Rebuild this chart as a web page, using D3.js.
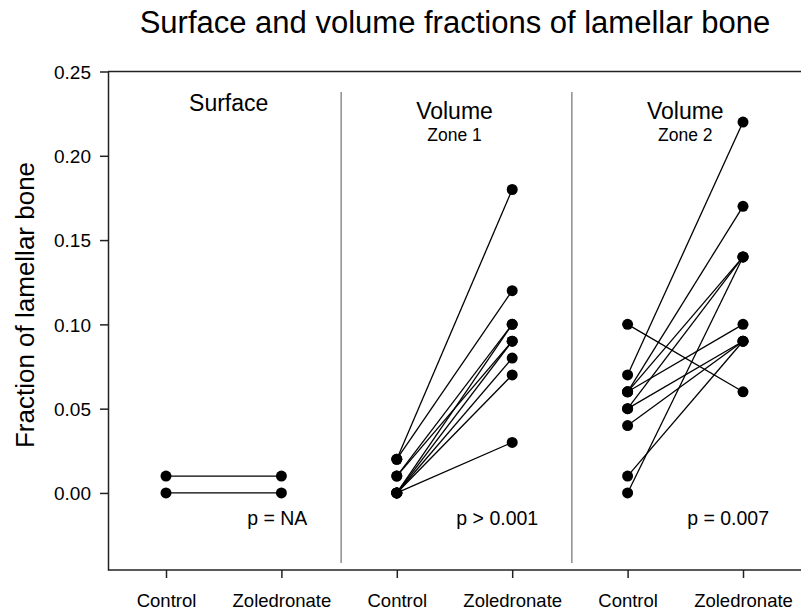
<!DOCTYPE html>
<html>
<head>
<meta charset="utf-8">
<script src="https://d3js.org/d3.v7.min.js"></script>
<style>
  body { margin: 0; background: white; }
  text { font-family: "Liberation Sans", Arial, sans-serif; fill: black; }
</style>
</head>
<body>
<svg id="chart" width="801" height="614"></svg>
<script>
    // groups along the x axis
    var groupKeys = ["s_ctl", "s_zol", "v1_ctl", "v1_zol", "v2_ctl", "v2_zol"];
    var groupLabels = ["Control", "Zoledronate", "Control", "Zoledronate", "Control", "Zoledronate"];

    // panel headings and p values
    var panelTitles = ["Surface", "Volume", "Volume"];
    var panelSubtitles = ["", "Zone 1", "Zone 2"];
    var pValues = ["p = NA", "p > 0.001", "p = 0.007"];

    // paired values [control, zoledronate]
    var surfacePairs = [[0.01, 0.01], [0.00, 0.00]];
    var zone1Pairs = [[0.02, 0.18], [0.02, 0.12], [0.01, 0.10], [0.01, 0.09], [0.00, 0.10],
                      [0.00, 0.09], [0.00, 0.08], [0.00, 0.07], [0.00, 0.03]];
    var zone2Pairs = [[0.10, 0.06], [0.07, 0.22], [0.06, 0.10], [0.06, 0.17], [0.06, 0.14],
                      [0.05, 0.14], [0.05, 0.09], [0.04, 0.09], [0.01, 0.09], [0.00, 0.14]];

    var yTicks = [0.00, 0.05, 0.10, 0.15, 0.20, 0.25];

    var svg = d3.select("#chart");

    var plotLeft = 108, plotRight = 801, plotTop = 71.5, plotBottom = 570;

    var x = d3.scalePoint().domain(groupKeys).range([166, 743]);
    var y = d3.scaleLinear().domain([-0.0457, 0.25]).range([plotBottom, plotTop]);

    // title
    svg.append("text")
        .attr("x", 455).attr("y", 33)
        .attr("text-anchor", "middle")
        .style("font-size", "31px")
        .text("Surface and volume fractions of lamellar bone");

    // frame top / bottom
    svg.append("line").attr("x1", plotLeft).attr("x2", plotRight).attr("y1", plotTop).attr("y2", plotTop)
        .attr("stroke", "#222").attr("stroke-width", 1.5);
    svg.append("line").attr("x1", plotLeft).attr("x2", plotRight).attr("y1", plotBottom).attr("y2", plotBottom)
        .attr("stroke", "#222").attr("stroke-width", 1.5);

    // y axis
    var yAxis = svg.append("g")
        .attr("transform", "translate(" + plotLeft + ",0)")
        .call(d3.axisLeft(y).tickValues(yTicks).tickFormat(d3.format(".2f")).tickSize(8).tickSizeOuter(0));
    yAxis.selectAll("path, line").attr("stroke", "#222").attr("stroke-width", 1.5);
    yAxis.selectAll("text").style("font-size", "19px").attr("x", -17).attr("dy", "0.36em")
        .style("font-family", "'Liberation Sans', Arial, sans-serif");

    svg.append("text")
        .attr("transform", "translate(34,305) rotate(-90)")
        .attr("text-anchor", "middle")
        .style("font-size", "26px")
        .text("Fraction of lamellar bone");

    // x axis
    var xAxis = svg.append("g")
        .attr("transform", "translate(0," + plotBottom + ")")
        .call(d3.axisBottom(x).tickSize(8).tickFormat(function(d, i) { return groupLabels[i]; }));
    xAxis.select(".domain").remove();
    xAxis.selectAll("line").attr("stroke", "#222").attr("stroke-width", 1.5);
    xAxis.selectAll("text").style("font-size", "18.5px").attr("y", 24)
        .style("font-family", "'Liberation Sans', Arial, sans-serif");

    // panel separators
    [1, 2].forEach(function(p) {
        var sx = (x(groupKeys[2 * p - 1]) + x(groupKeys[2 * p])) / 2 + 2;
        svg.append("line")
            .attr("x1", sx).attr("x2", sx)
            .attr("y1", 92).attr("y2", 563)
            .attr("stroke", "#555").attr("stroke-width", 1);
    });

    // panel labels
    panelTitles.forEach(function(t, p) {
        var cx = (x(groupKeys[2 * p]) + x(groupKeys[2 * p + 1])) / 2;
        svg.append("text")
            .attr("x", p == 0 ? cx + 5 : cx).attr("y", p == 0 ? 111 : 119)
            .attr("text-anchor", "middle")
            .style("font-size", "23px")
            .text(t);
        if (panelSubtitles[p]) {
            svg.append("text")
                .attr("x", cx).attr("y", 141)
                .attr("text-anchor", "middle")
                .style("font-size", "17.5px")
                .text(panelSubtitles[p]);
        }
        svg.append("text")
            .attr("x", x(groupKeys[2 * p + 1]) + 26).attr("y", 525)
            .attr("text-anchor", "end")
            .style("font-size", "19.5px")
            .text(pValues[p]);
    });

    // pairs
    var panels = [surfacePairs, zone1Pairs, zone2Pairs];
    panels.forEach(function(pairs, p) {
        var x0 = x(groupKeys[2 * p]), x1 = x(groupKeys[2 * p + 1]);
        var g = svg.append("g");
        g.selectAll("line.pair")
            .data(pairs)
            .enter().append("line")
            .attr("class", "pair")
            .attr("x1", x0).attr("x2", x1)
            .attr("y1", function(d) { return y(d[0]); })
            .attr("y2", function(d) { return y(d[1]); })
            .attr("stroke", "black").attr("stroke-width", 1.3);
        var dots = [];
        pairs.forEach(function(d) {
            dots.push({ cx: x0, v: d[0] });
            dots.push({ cx: x1, v: d[1] });
        });
        g.selectAll("circle")
            .data(dots)
            .enter().append("circle")
            .attr("cx", function(d) { return d.cx; })
            .attr("cy", function(d) { return y(d.v); })
            .attr("r", 5.5)
            .attr("fill", "black");
    });
</script>
</body>
</html>
